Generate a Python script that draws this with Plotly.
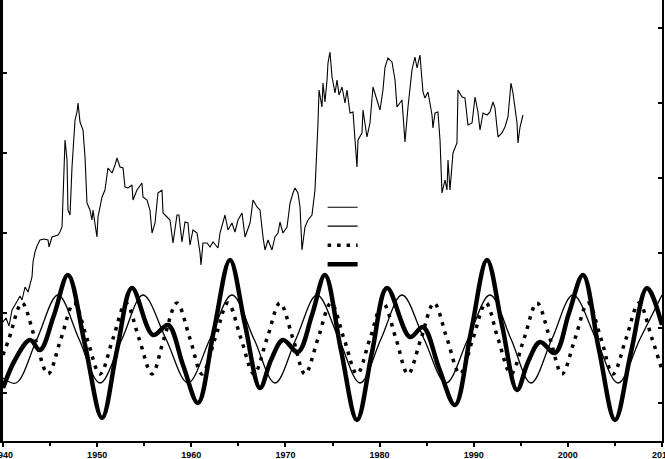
import plotly.graph_objects as go

# ---- top series (arbitrary, unlabeled left scale) ----
series_years = [
    1940.00, 1940.32, 1940.64, 1940.96, 1941.27, 1941.59, 1941.81, 1942.02, 1942.34, 1942.66,
    1942.87, 1943.08, 1943.19, 1943.40, 1943.61, 1943.93, 1944.36, 1944.78, 1944.89, 1945.20,
    1945.84, 1946.05, 1946.27, 1946.37, 1946.59, 1946.80, 1946.90, 1947.12, 1947.33, 1947.65,
    1947.86, 1947.97, 1948.18, 1948.50, 1948.71, 1948.92, 1949.24, 1949.45, 1949.56, 1949.98,
    1950.09, 1950.52, 1950.83, 1951.15, 1951.58, 1951.90, 1952.11, 1952.43, 1952.75, 1952.96,
    1953.28, 1953.70, 1953.81, 1954.23, 1954.76, 1954.87, 1955.30, 1955.61, 1955.83, 1956.15,
    1956.46, 1956.89, 1957.00, 1957.42, 1957.74, 1958.06, 1958.48, 1958.69, 1959.01, 1959.33,
    1959.65, 1959.86, 1960.18, 1960.61, 1960.93, 1961.03, 1961.24, 1961.67, 1961.99, 1962.31,
    1962.84, 1963.05, 1963.58, 1963.90, 1964.32, 1964.64, 1964.96, 1965.39, 1965.71, 1966.24,
    1966.56, 1966.98, 1967.30, 1967.62, 1967.83, 1968.15, 1968.57, 1968.89, 1969.21, 1969.42,
    1969.74, 1970.17, 1970.49, 1970.80, 1971.02, 1971.33, 1971.55, 1971.76, 1972.08, 1972.40,
    1972.82, 1973.14, 1973.35, 1973.46, 1973.57, 1973.88, 1973.99, 1974.20, 1974.42, 1974.52,
    1974.73, 1974.95, 1975.27, 1975.48, 1975.69, 1976.01, 1976.33, 1976.54, 1976.86, 1977.18,
    1977.60, 1977.71, 1978.13, 1978.24, 1978.66, 1978.98, 1979.30, 1979.73, 1980.05, 1980.36,
    1980.58, 1980.89, 1981.32, 1981.64, 1981.85, 1982.38, 1982.70, 1983.02, 1983.44, 1983.76,
    1983.98, 1984.29, 1984.61, 1984.82, 1985.14, 1985.57, 1985.67, 1985.89, 1986.20, 1986.42,
    1986.63, 1986.95, 1987.16, 1987.27, 1987.48, 1987.80, 1988.22, 1988.33, 1988.76, 1989.07,
    1989.39, 1989.82, 1990.14, 1990.45, 1990.67, 1990.99, 1991.41, 1991.73, 1992.05, 1992.26,
    1992.58, 1993.00, 1993.32, 1993.64, 1993.96, 1994.17, 1994.60, 1994.70, 1994.92, 1995.23,
]
series_values = [
    29.75, 30.75, 28.75, 32.75, 34.0, 35.25, 36.25, 35.25, 38.5, 37.25,
    39.25, 41.0, 44.75, 47.25, 48.75, 50.25, 50.5, 50.25, 48.5, 51.0,
    51.5, 52.25, 53.5, 59.5, 75.25, 70.25, 57.75, 56.5, 68.5, 80.25,
    82.25, 84.5, 79.75, 77.75, 71.0, 59.5, 57.75, 55.25, 57.75, 51.0,
    56.0, 61.0, 62.75, 68.25, 67.0, 69.0, 70.75, 68.5, 68.25, 63.5,
    63.25, 64.0, 60.25, 62.75, 64.5, 61.0, 60.25, 57.75, 52.0, 54.5,
    62.0, 62.75, 57.0, 56.0, 55.25, 49.5, 56.5, 56.5, 49.75, 54.75,
    54.5, 49.0, 52.75, 52.0, 47.0, 44.0, 49.5, 49.5, 48.5, 49.75,
    48.25, 52.0, 56.5, 52.75, 54.5, 52.25, 55.25, 57.0, 51.0, 54.5,
    60.25, 58.5, 57.75, 51.0, 47.75, 50.25, 47.75, 51.0, 52.0, 54.75,
    52.0, 53.5, 59.5, 62.0, 63.25, 62.0, 58.5, 47.75, 53.5, 55.25,
    56.5, 62.75, 72.0, 79.5, 87.75, 83.5, 89.5, 84.75, 90.25, 94.5,
    97.25, 91.0, 87.0, 90.25, 86.5, 88.5, 84.5, 87.75, 82.0, 82.25,
    68.5, 75.25, 77.0, 82.75, 76.0, 79.5, 88.5, 85.25, 82.75, 87.75,
    93.5, 95.75, 94.75, 90.25, 83.5, 85.25, 74.75, 83.5, 92.75, 96.0,
    93.25, 96.5, 87.25, 85.75, 87.25, 81.5, 78.25, 82.0, 82.25, 75.25,
    62.0, 65.25, 62.75, 70.25, 62.75, 72.0, 74.5, 87.75, 86.0, 85.75,
    79.0, 79.5, 86.0, 82.25, 77.75, 82.0, 81.5, 82.25, 84.75, 83.25,
    76.0, 77.0, 78.5, 81.0, 89.5, 87.0, 79.5, 74.5, 78.5, 81.5,
]

# ---- thin cycle (right scale) ----
thin_years = [
    1940.00, 1941.38, 1943.61, 1945.84, 1948.07, 1950.30, 1952.64, 1954.87, 1957.31, 1959.65,
    1961.99, 1964.32, 1966.66, 1968.89, 1971.12, 1973.35, 1975.69, 1977.92, 1980.15, 1982.38,
    1984.72, 1987.06, 1989.39, 1991.73, 1993.96, 1996.08, 1998.31, 2000.55, 2002.99, 2005.33,
    2007.66, 2010.00,
]
thin_values = [
    15.75, 14.5, 25.5, 36.5, 25.5, 14.5, 25.5, 36.5, 25.5, 14.5,
    25.5, 36.5, 25.5, 14.5, 25.5, 36.5, 25.5, 14.5, 25.5, 36.5,
    25.5, 14.5, 25.5, 36.5, 25.5, 14.5, 25.5, 36.5, 25.5, 14.5,
    25.5, 36.5,
]

# ---- dotted cycle (right scale) ----
dot_years = [
    1940.00, 1940.64, 1942.02, 1943.40, 1944.78, 1946.16, 1947.54, 1948.92, 1950.30, 1951.68,
    1953.07, 1954.45, 1955.83, 1957.10, 1958.48, 1959.86, 1961.14, 1962.52, 1963.90, 1965.28,
    1966.66, 1968.04, 1969.42, 1970.80, 1972.08, 1973.46, 1974.84, 1976.22, 1977.60, 1978.98,
    1980.36, 1981.74, 1983.02, 1984.40, 1985.78, 1987.16, 1988.54, 1989.92, 1991.30, 1992.58,
    1993.96, 1995.34, 1996.72, 1998.10, 1999.38, 2000.76, 2002.14, 2003.52, 2004.79, 2006.18,
    2007.56, 2008.94, 2010.00,
]
dot_values = [
    21.5, 25.6, 34.5, 25.6, 16.75, 25.6, 34.5, 25.6, 16.75, 25.6,
    34.5, 25.6, 16.75, 25.6, 34.5, 25.6, 16.75, 25.6, 34.5, 25.6,
    16.75, 25.6, 34.5, 25.6, 16.75, 25.6, 34.5, 25.6, 16.75, 25.6,
    34.5, 25.6, 16.75, 25.6, 34.5, 25.6, 16.75, 25.6, 34.5, 25.6,
    16.75, 25.6, 34.5, 25.6, 16.75, 25.6, 34.5, 25.6, 16.75, 25.6,
    34.5, 25.6, 17.75,
]

# ---- thick combined cycle (right scale) ----
thick_years = [
    1940.00, 1941.27, 1942.87, 1943.93, 1945.42, 1946.90, 1948.71, 1950.52, 1952.11, 1953.70,
    1955.93, 1957.53, 1959.12, 1960.71, 1962.41, 1964.11, 1965.71, 1967.30, 1968.47, 1969.74,
    1971.33, 1972.82, 1974.20, 1975.90, 1977.60, 1979.20, 1980.79, 1983.23, 1984.61, 1986.31,
    1988.01, 1989.71, 1991.41, 1993.00, 1994.60, 1995.77, 1997.04, 1998.63, 2000.12, 2001.61,
    2003.31, 2005.01, 2006.71, 2008.41, 2010.00,
]
thick_values = [
    13.25, 20.25, 25.25, 22.75, 31.5, 41.5, 24.0, 5.75, 22.75, 38.25,
    26.5, 29.0, 19.0, 9.5, 27.75, 45.25, 29.0, 13.25, 20.25, 25.25,
    22.25, 31.5, 41.5, 22.75, 5.25, 22.25, 38.25, 26.0, 28.5, 18.25,
    9.0, 27.25, 45.25, 29.0, 12.75, 19.75, 24.75, 22.0, 32.0, 41.5,
    22.75, 5.25, 22.25, 38.25, 29.0,
]

x_ticks = [1940, 1950, 1960, 1970, 1980, 1990, 2000, 2010]
x_labels = ["1940", "1950", "1960", "1970", "1980", "1990", "2000", "2010"]
left_ticks = [12, 32, 52, 72, 92]
right_ticks = [9.5, 28.25, 47, 65.75, 84.5, 103.25]
y_range = [0, 110.25]

fig = go.Figure()
fig.add_trace(go.Scatter(x=series_years, y=series_values, mode="lines", name="",
                         line=dict(color="black", width=1.1)))
fig.add_trace(go.Scatter(x=thin_years, y=thin_values, mode="lines", name="", yaxis="y2",
                         line=dict(color="black", width=1.3, shape="spline", smoothing=1.0)))
fig.add_trace(go.Scatter(x=dot_years, y=dot_values, mode="lines", name="", yaxis="y2",
                         line=dict(color="black", width=3.5, dash="3.5px,6px", shape="spline", smoothing=1.0)))
fig.add_trace(go.Scatter(x=thick_years, y=thick_values, mode="lines", name="", yaxis="y2",
                         line=dict(color="black", width=4.5, shape="spline", smoothing=1.0)))

tick_font = dict(family="Liberation Sans Narrow, Arial Narrow, Liberation Sans, Arial", size=9,
                 color="black", weight="bold")

fig.update_layout(
    width=665, height=459,
    margin=dict(l=3, r=3, t=0, b=18, autoexpand=False),
    paper_bgcolor="white", plot_bgcolor="white",
    showlegend=True,
    legend=dict(x=0.485, y=0.563, xanchor="left", yanchor="top",
                bgcolor="rgba(0,0,0,0)", borderwidth=0, font=dict(size=8),
                itemwidth=30, tracegroupgap=0),
    xaxis=dict(range=[1940, 2010], tickvals=x_ticks, ticktext=x_labels, ticks="outside",
               ticklen=4, tickwidth=1.5, tickcolor="black", showline=True, linewidth=2,
               linecolor="black", showgrid=False, zeroline=False, tickfont=tick_font,
               ticklabeloverflow="allow", automargin=False,
               minor=dict(dtick=5, tick0=1945, ticks="outside", ticklen=3, tickcolor="black",
                          showgrid=False)),
    yaxis=dict(range=y_range, tickvals=left_ticks, ticks="inside", ticklen=4, tickwidth=1.5,
               tickcolor="black", showticklabels=False, showline=True, linewidth=2.5,
               linecolor="black", showgrid=False, zeroline=False, automargin=False),
    yaxis2=dict(range=y_range, overlaying="y", side="right", tickvals=right_ticks,
                ticks="inside", ticklen=4, tickwidth=1.5, tickcolor="black",
                showticklabels=False, showline=True, linewidth=1.5, linecolor="black",
                showgrid=False, zeroline=False, automargin=False),
)

fig.write_html("out.html", config={"displayModeBar": False},
               post_script="document.body.style.margin='0';document.body.style.overflow='hidden';")
